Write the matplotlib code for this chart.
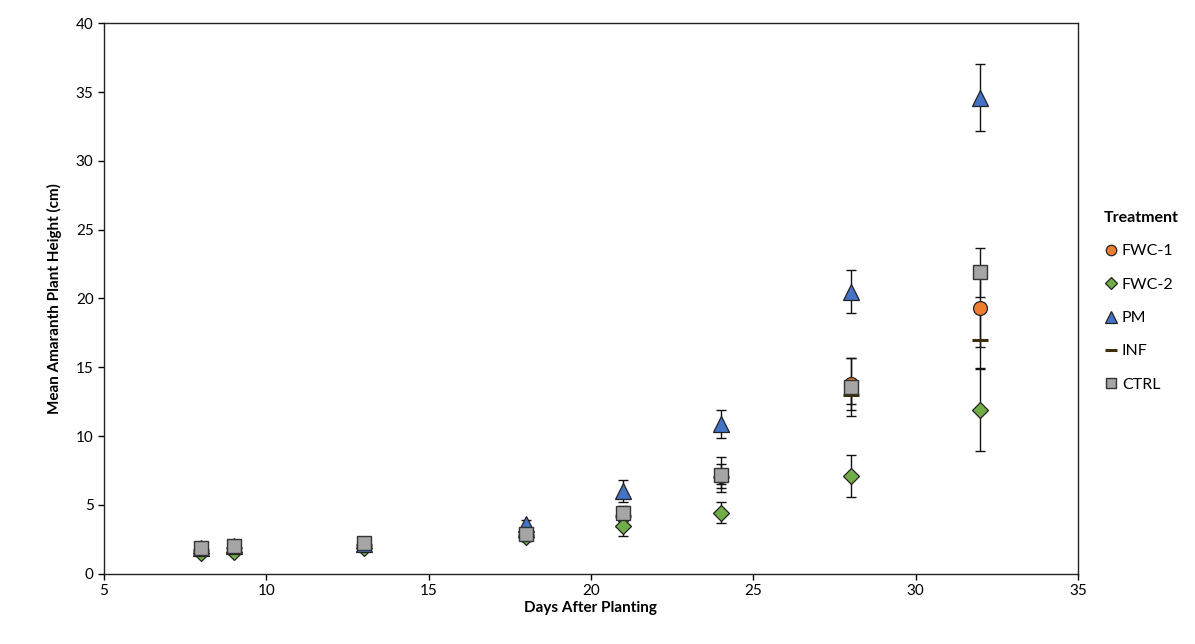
import matplotlib
matplotlib.use("Agg")
import matplotlib.pyplot as plt
from matplotlib.lines import Line2D

# days after planting
days = [8, 9, 13, 18, 21, 24, 28, 32]

# mean heights (cm) per treatment
fwc1 = [1.8, 1.9, 2.1, 2.8, 4.3, 7.1, 13.8, 19.3]
fwc2 = [1.5, 1.6, 1.9, 2.7, 3.45, 4.45, 7.1, 11.9]
pm = [1.9, 2.0, 2.2, 3.6, 6.05, 10.9, 20.5, 34.6]
inf = [1.7, 1.9, 2.1, 2.8, 4.2, 7.0, 13.0, 17.0]
ctrl = [1.9, 2.0, 2.25, 2.9, 4.4, 7.2, 13.6, 21.9]

# error bar half-widths
fwc1_err = [0.1, 0.1, 0.2, 0.3, 0.4, 0.9, 1.9, 2.8]
fwc2_err = [0.1, 0.1, 0.2, 0.3, 0.7, 0.75, 1.5, 3.0]
pm_err = [0.1, 0.1, 0.2, 0.3, 0.8, 1.0, 1.55, 2.4]
inf_err = [0.1, 0.1, 0.2, 0.3, 0.4, 0.5, 0.7, 2.05]
ctrl_err = [0.1, 0.2, 0.3, 0.5, 0.55, 1.25, 2.1, 1.8]

labels = ["FWC-1", "FWC-2", "PM", "INF", "CTRL"]

plt.rcParams['font.family'] = ['Lato', 'DejaVu Sans']

fig = plt.figure(figsize=(11.95, 6.44), dpi=100)
ax = fig.add_axes([0.087, 0.109, 0.815, 0.855])

series = [
    (fwc1, fwc1_err, dict(marker='o', markersize=10, markerfacecolor='#ED7D31', markeredgecolor='#222222', markeredgewidth=0.9)),
    (fwc2, fwc2_err, dict(marker='D', markersize=8.5, markerfacecolor='#70AD47', markeredgecolor='#222222', markeredgewidth=0.9)),
    (pm, pm_err, dict(marker='^', markersize=11, markerfacecolor='#4472C4', markeredgecolor='#222222', markeredgewidth=0.9)),
    (inf, inf_err, dict(marker='_', markersize=11, markeredgecolor='#3d2e0c', markeredgewidth=2.2)),
    (ctrl, ctrl_err, dict(marker='s', markersize=10.5, markerfacecolor='#A5A5A5', markeredgecolor='#333333', markeredgewidth=1.0)),
]

# error bars below all markers
for vals, errs, style in series:
    ax.errorbar(days, vals, yerr=errs, fmt='none', ecolor='#111111',
                elinewidth=1.0, capsize=3.5, capthick=1.0, zorder=2)

handles = []
for i, (vals, errs, style) in enumerate(series):
    ax.plot(days, vals, linestyle='none', zorder=3 + i, **style)
    lstyle = dict(style)
    lstyle['markersize'] = style['markersize'] * 0.75
    handles.append(Line2D([], [], linestyle='none', **lstyle))

ax.set_xlim(5, 35)
ax.set_ylim(0, 40)
ax.set_xticks(range(5, 36, 5))
ax.set_yticks(range(0, 41, 5))
ax.tick_params(axis='both', labelsize=11, direction='out', length=4, width=1)
for sp in ax.spines.values():
    sp.set_linewidth(1.0)
    sp.set_color('#222222')

ax.set_xlabel('Days After Planting', fontsize=11, fontweight='bold', labelpad=2)
ax.set_ylabel('Mean Amaranth Plant Height (cm)', fontsize=11, fontweight='bold', labelpad=10)

leg = fig.legend(handles, labels, title='Treatment', loc='upper left',
                 bbox_to_anchor=(0.912, 0.695), frameon=False, fontsize=11.5,
                 title_fontproperties={'weight': 'bold', 'size': 11.5},
                 handlelength=0.8, handletextpad=0.3, labelspacing=1.2)
leg._legend_box.align = 'left'
leg._legend_box.sep = 14

fig.savefig('out.png', dpi=100)
